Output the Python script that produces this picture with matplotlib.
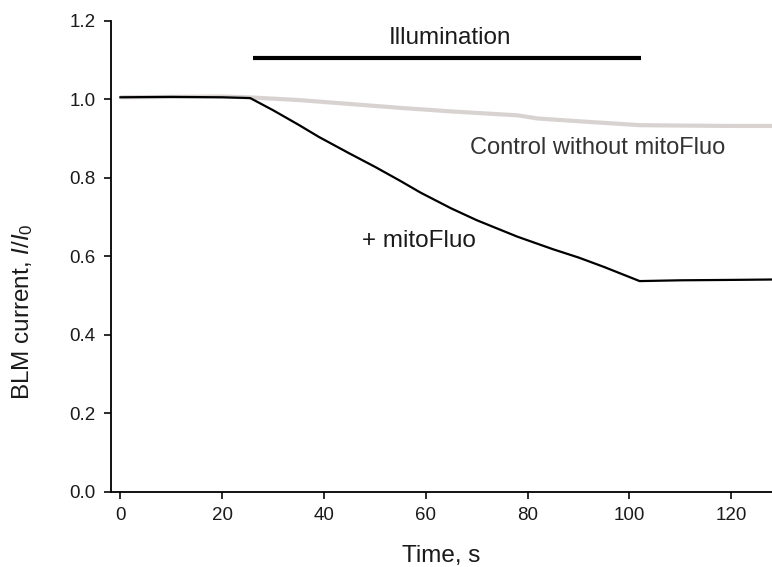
import numpy as np
import matplotlib
matplotlib.use("Agg")
import matplotlib.pyplot as plt

plt.rcParams['font.family'] = ['Liberation Sans', 'DejaVu Sans']
plt.rcParams['mathtext.fontset'] = 'custom'
plt.rcParams['mathtext.rm'] = 'Liberation Sans'
plt.rcParams['mathtext.it'] = 'Liberation Sans:italic'

# trace readings (time in s, relative current I/I0)
t_mito = [0, 10, 20, 25.5, 30, 35, 39, 45, 50, 55, 59, 65, 70, 78, 85, 90, 95, 102, 110, 120, 128]
i_mito = [1.005, 1.006, 1.005, 1.003, 0.972, 0.935, 0.904, 0.862, 0.828, 0.792, 0.762, 0.722, 0.692, 0.650, 0.618, 0.597, 0.573, 0.537, 0.539, 0.540, 0.541]

t_ctrl = [0, 10, 20, 25, 35, 45, 55, 65, 78, 82, 90, 102, 110, 120, 128]
i_ctrl = [1.005, 1.006, 1.007, 1.005, 0.998, 0.988, 0.978, 0.969, 0.959, 0.951, 0.944, 0.934, 0.933, 0.932, 0.932]

illum_start, illum_end = 26.0, 102.2
illum_level = 1.104

text_col = '#1a1a1a'

fig = plt.figure(figsize=(7.72, 5.67), dpi=100)
ax = fig.add_axes([0.1434, 0.1323, 0.8566, 0.8312])

ax.plot(t_ctrl, i_ctrl, color='#d8d3d1', lw=3, solid_capstyle='butt')
ax.plot(t_mito, i_mito, color='black', lw=1.6)
ax.plot([illum_start, illum_end], [illum_level, illum_level], color='black', lw=3, solid_capstyle='butt')

ax.text(64.7, 1.155, 'Illumination', ha='center', va='center', fontsize=17.5, color=text_col)
ax.text(93.7, 0.875, 'Control without mitoFluo', ha='center', va='center', fontsize=17, color='#333333')
ax.text(58.7, 0.639, '+ mitoFluo', ha='center', va='center', fontsize=17.5, color=text_col)

ax.set_xlim(-1.9, 128)
ax.set_ylim(0, 1.2)
ax.set_xticks([0, 20, 40, 60, 80, 100, 120])
ax.set_yticks([0.0, 0.2, 0.4, 0.6, 0.8, 1.0, 1.2])
ax.set_yticklabels(['0.0', '0.2', '0.4', '0.6', '0.8', '1.0', '1.2'])

for s in ['top', 'right']:
    ax.spines[s].set_visible(False)
for s in ['left', 'bottom']:
    ax.spines[s].set_linewidth(1.3)
ax.tick_params(direction='out', length=5, width=1.3, labelsize=13.5, colors=text_col, pad=6)

ax.set_xlabel('Time, s', fontsize=17.5, color=text_col)
ax.set_ylabel(r'BLM current, $I/I_0$', fontsize=17.5, color=text_col)
ax.xaxis.set_label_coords(0.5, -0.112)
ax.yaxis.set_label_coords(-0.115, 0.382)

fig.savefig('out.png', dpi=100)
